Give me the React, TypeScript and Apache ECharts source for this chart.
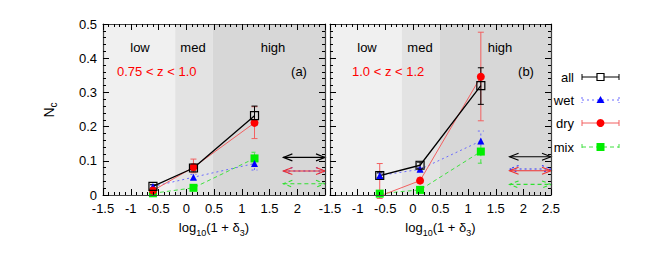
import React, { useEffect, useRef } from "react";
import * as echarts from "echarts";

const xPos = [-0.6, 0.13, 1.23];
const regions = [
  [-1.5, -0.2, 0],
  [-0.2, 0.48, 1],
  [0.48, 2.5, 2],
];
const regionColors = ["#f0f0f0", "#e3e3e3", "#d7d7d7"];

// panel (a) 0.75 < z < 1.0
const aAll = [0.025, 0.079, 0.232];
const aAllErr = [[0.02, 0.03], [0.07, 0.09], [0.205, 0.26]];
const aDry = [0.013, 0.081, 0.211];
const aDryErr = [[0.006, 0.02], [0.065, 0.105], [0.165, 0.258]];
const aWet = [0.025, 0.052, 0.092];
const aWetErr = [[0.02, 0.03], [0.045, 0.06], [0.073, 0.11]];
const aMix = [0.005, 0.021, 0.107];
const aMixErr = [[0.003, 0.008], [0.018, 0.025], [0.09, 0.125]];
const aArrows = { all: 0.11, dry: 0.07, wet: 0.07, mix: 0.033 };

// panel (b) 1.0 < z < 1.2
const bAll = [0.057, 0.087, 0.32];
const bAllErr = [[0.05, 0.065], [0.078, 0.096], [0.265, 0.372]];
const bDry = [-0.003, 0.042, 0.346];
const bDryErr = [[-0.01, 0.092], [0.035, 0.05], [0.217, 0.476]];
const bWet = [0.057, 0.075, 0.158];
const bWetErr = [[0.05, 0.064], [0.07, 0.08], [0.13, 0.187]];
const bMix = [0.004, 0.015, 0.127];
const bMixErr = [[0.0, 0.008], [0.012, 0.018], [0.093, 0.15]];
const bArrows = { all: 0.112, dry: 0.071, wet: 0.076, mix: 0.031 };

const arrowRange = [1.75, 2.5];

const FONT = "Liberation Sans";
const C = {
  all: { mark: "#000000", line: "#000000", arrow: "#000000", dash: "solid" as any },
  wet: { mark: "#0000ff", line: "#6a6aff", arrow: "#3333ff", dash: [2, 3] as any },
  dry: { mark: "#ff0000", line: "#f26060", arrow: "#f03030", dash: "solid" as any },
  mix: { mark: "#00ee00", line: "#40e040", arrow: "#30e030", dash: [4, 3] as any },
};

function errRender(color: string, dash: any, cap: number) {
  return (params: any, api: any) => {
    const x = api.value(0), lo = api.value(1), hi = api.value(2);
    const p1 = api.coord([x, lo]);
    const p2 = api.coord([x, hi]);
    const style = { stroke: color, lineWidth: 1, lineDash: dash === "solid" ? null : dash, fill: null };
    return {
      type: "group",
      children: [
        { type: "line", shape: { x1: p1[0], y1: p1[1], x2: p2[0], y2: p2[1] }, style },
        { type: "line", shape: { x1: p1[0] - cap, y1: p1[1], x2: p1[0] + cap, y2: p1[1] }, style },
        { type: "line", shape: { x1: p2[0] - cap, y1: p2[1], x2: p2[0] + cap, y2: p2[1] }, style },
      ],
    };
  };
}

function arrowRender(color: string, dash: any) {
  return (params: any, api: any) => {
    const x1 = api.value(0), x2 = api.value(1), y = api.value(2);
    const p1 = api.coord([x1, y]);
    const p2 = api.coord([x2, y]);
    const style = { stroke: color, lineWidth: 1.1, lineDash: dash === "solid" ? null : dash, fill: null };
    const hl = 9, hw = 3.5;
    return {
      type: "group",
      children: [
        { type: "line", shape: { x1: p1[0], y1: p1[1], x2: p2[0], y2: p2[1] }, style },
        { type: "polyline", shape: { points: [[p1[0] + hl, p1[1] - hw], [p1[0], p1[1]], [p1[0] + hl, p1[1] + hw]] }, style },
        { type: "polyline", shape: { points: [[p2[0] - hl, p2[1] - hw], [p2[0], p2[1]], [p2[0] - hl, p2[1] + hw]] }, style },
      ],
    };
  };
}

function regionRender(params: any, api: any) {
  const x0 = api.value(0), x1 = api.value(1), ci = api.value(2);
  const p0 = api.coord([x0, 0.5]);
  const p1 = api.coord([x1, 0]);
  return {
    type: "rect",
    shape: { x: p0[0], y: p0[1], width: p1[0] - p0[0], height: p1[1] - p0[1] },
    style: { fill: regionColors[ci] },
  };
}

function panelSeries(gi: number, all: number[], allErr: number[][], dry: number[], dryErr: number[][], wet: number[], wetErr: number[][], mix: number[], mixErr: number[][], arrows: any) {
  const xa = gi * 2;
  const ya = gi * 2;
  const pts = (v: number[]) => v.map((y, i) => [xPos[i], y]);
  const errs = (e: number[][]) => e.map((r, i) => [xPos[i], r[0], r[1]]);
  const base = { xAxisIndex: xa, yAxisIndex: ya };
  const line = (name: string, v: number[], c: any, symbol: string, size: number, hollow = false) => ({
    ...base,
    type: "line",
    name,
    data: pts(v),
    symbol,
    symbolSize: size,
    z: 4,
    lineStyle: { color: c.line, width: name === "all" ? 1.3 : 1, type: c.dash },
    itemStyle: hollow
      ? { color: "rgba(0,0,0,0)", borderColor: c.mark, borderWidth: 1.2 }
      : { color: c.mark },
  });
  const err = (e: number[][], c: any, cap: number) => ({
    ...base,
    type: "custom",
    z: 3,
    renderItem: errRender(c.line, c.dash, cap),
    data: errs(e),
    encode: { x: 0, y: [1, 2] },
  });
  const arrow = (y: number, c: any) => ({
    ...base,
    type: "custom",
    z: 3,
    renderItem: arrowRender(c.arrow, c.dash),
    data: [[arrowRange[0], arrowRange[1], y]],
    encode: { x: [0, 1], y: 2 },
  });
  return [
    {
      ...base,
      type: "custom",
      z: 1,
      renderItem: regionRender,
      data: regions,
      encode: { x: [0, 1] },
      silent: true,
    },
    line("mix", mix, C.mix, "rect", 8),
    err(mixErr, C.mix, 3),
    line("wet", wet, C.wet, "triangle", 7),
    err(wetErr, C.wet, 3),
    line("dry", dry, C.dry, "circle", 8),
    err(dryErr, C.dry, 3),
    line("all", all, C.all, "rect", 8, true),
    err(allErr, C.all, 3),
    arrow(arrows.all, C.all),
    arrow(arrows.wet, C.wet),
    arrow(arrows.dry, C.dry),
    arrow(arrows.mix, C.mix),
  ];
}

const axisLineStyle = { color: "#444", width: 1.2 };
const labelStyle = { color: "#000", fontSize: 13, fontFamily: FONT };

function xAxes(gi: number, hideLast: boolean) {
  const common = {
    type: "value",
    gridIndex: gi,
    min: -1.5,
    max: 2.5,
    interval: 0.5,
    z: 6,
    splitLine: { show: false },
    axisLine: { onZero: false, lineStyle: axisLineStyle },
    axisTick: { inside: true, length: 6, lineStyle: { color: "#000", width: 1 } },
    minorTick: { show: true, splitNumber: 5, length: 3, lineStyle: { color: "#000", width: 1 } },
  };
  return [
    {
      ...common,
      position: "bottom",
      axisLabel: {
        ...labelStyle,
        margin: 7,
        formatter: (v: number) => (hideLast && v === 2.5 ? "" : String(v)),
      },
      name: "{t|log}{s|10}{t|(1 + δ}{s|3}{t|)}",
      nameLocation: "middle",
      nameGap: 26,
      nameTextStyle: {
        rich: {
          t: { fontSize: 13, fontFamily: FONT, color: "#000", lineHeight: 16, verticalAlign: "top" },
          s: { fontSize: 9, fontFamily: FONT, color: "#000", lineHeight: 8, verticalAlign: "bottom" },
        },
      },
    },
    { ...common, position: "top", axisLabel: { show: false } },
  ];
}

function yAxes(gi: number, showLabels: boolean) {
  const common = {
    type: "value",
    gridIndex: gi,
    min: 0,
    max: 0.5,
    interval: 0.1,
    z: 6,
    splitLine: { show: false },
    axisLine: { onZero: false, lineStyle: axisLineStyle },
    axisTick: { inside: true, length: 6, lineStyle: { color: "#000", width: 1 } },
    minorTick: { show: true, splitNumber: 5, length: 3, lineStyle: { color: "#000", width: 1 } },
  };
  return [
    { ...common, position: "left", axisLabel: { ...labelStyle, show: showLabels, margin: 6 } },
    { ...common, position: "right", axisLabel: { show: false } },
  ];
}

function txt(x: number, y: number, text: string, color = "#000", align = "center") {
  return {
    type: "text",
    x,
    y,
    z: 10,
    style: { text, fill: color, font: `13px "${FONT}"`, align, verticalAlign: "middle" },
  };
}

function legendItem(y: number, label: string, c: any, marker: any) {
  const lineStyle = { stroke: c.line, lineWidth: 1, lineDash: c.dash === "solid" ? null : c.dash };
  return [
    txt(574, y, label, "#000", "right"),
    { type: "line", z: 10, shape: { x1: 582, y1: y, x2: 619, y2: y }, style: lineStyle },
    { type: "line", z: 10, shape: { x1: 582, y1: y - 3, x2: 582, y2: y + 3 }, style: lineStyle },
    { type: "line", z: 10, shape: { x1: 619, y1: y - 3, x2: 619, y2: y + 3 }, style: lineStyle },
    { ...marker, z: 11 },
  ];
}

export default function App() {
  const ref = useRef<HTMLDivElement>(null);
  useEffect(() => {
    if (!ref.current) return;
    const chart = echarts.init(ref.current, null, { renderer: "svg" });
    const lx = 600.5;
    chart.setOption({
      animation: false,
      backgroundColor: "#fff",
      grid: [
        { left: 103, top: 24, width: 222, height: 171 },
        { left: 330, top: 24, width: 221, height: 171 },
      ],
      xAxis: [...xAxes(0, true), ...xAxes(1, false)],
      yAxis: [...yAxes(0, true), ...yAxes(1, false)],
      series: [
        ...panelSeries(0, aAll, aAllErr, aDry, aDryErr, aWet, aWetErr, aMix, aMixErr, aArrows),
        ...panelSeries(1, bAll, bAllErr, bDry, bDryErr, bWet, bWetErr, bMix, bMixErr, bArrows),
      ],
      graphic: [
        {
          type: "text",
          x: 50,
          y: 110,
          rotation: Math.PI / 2,
          z: 10,
          style: {
            text: "{t|N}{s|c}",
            align: "center",
            verticalAlign: "middle",
            rich: {
              t: { fontSize: 14, fontFamily: FONT, fill: "#000", lineHeight: 16, verticalAlign: "top" },
              s: { fontSize: 10, fontFamily: FONT, fill: "#000", lineHeight: 8, verticalAlign: "bottom" },
            },
          },
        },
        txt(140, 47, "low"),
        txt(193, 47, "med"),
        txt(273, 47, "high"),
        txt(117, 71, "0.75 < z < 1.0", "#ff0000", "left"),
        txt(299, 71, "(a)"),
        txt(367, 47, "low"),
        txt(420, 47, "med"),
        txt(500, 47, "high"),
        txt(352, 71, "1.0 < z < 1.2", "#ff0000", "left"),
        txt(526, 71, "(b)"),
        ...legendItem(77, "all", C.all, {
          type: "rect",
          shape: { x: lx - 3.5, y: 77 - 3.5, width: 7, height: 7 },
          style: { fill: "#fff", stroke: "#000", lineWidth: 1.2 },
        }),
        ...legendItem(100, "wet", C.wet, {
          type: "polygon",
          shape: { points: [[lx, 96], [lx - 4, 103], [lx + 4, 103]] },
          style: { fill: "#0000ff" },
        }),
        ...legendItem(123, "dry", C.dry, {
          type: "circle",
          shape: { cx: lx, cy: 123, r: 4 },
          style: { fill: "#ff0000" },
        }),
        ...legendItem(147, "mix", C.mix, {
          type: "rect",
          shape: { x: lx - 4, y: 147 - 4, width: 8, height: 8 },
          style: { fill: "#00ee00" },
        }),
      ],
    });
    return () => chart.dispose();
  }, []);
  return <div ref={ref} style={{ position: "absolute", left: 0, top: 0, width: 667, height: 258 }} />;
}
